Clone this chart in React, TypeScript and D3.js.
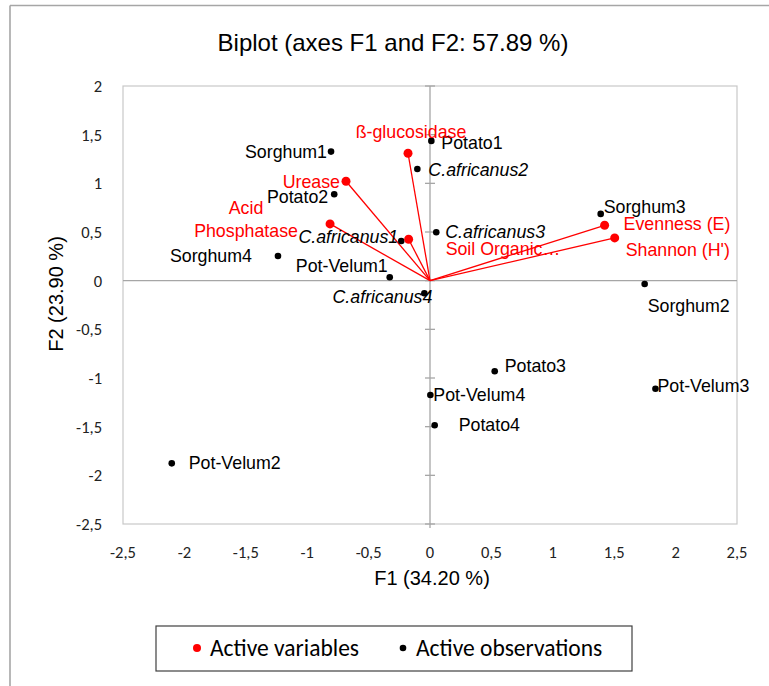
import React from "react";
import * as d3 from "d3";

// Observation scores on F1 / F2
const obsNames = [
  "Sorghum1", "Potato1", "C.africanus2", "Potato2", "C.africanus3", "C.africanus1",
  "Sorghum4", "Pot-Velum1", "C.africanus4", "Sorghum3", "Sorghum2", "Potato3",
  "Pot-Velum4", "Potato4", "Pot-Velum2", "Pot-Velum3",
];
const obsF1 = [-0.806, 0.011, -0.103, -0.78, 0.051, -0.234, -1.238, -0.328, -0.046, 1.39, 1.748, 0.527, 0.003, 0.038, -2.103, 1.836];
const obsF2 = [1.326, 1.436, 1.148, 0.888, 0.497, 0.408, 0.254, 0.035, -0.129, 0.686, -0.034, -0.931, -1.175, -1.486, -1.877, -1.111];

// Variable loadings on F1 / F2
const varNames = ["ß-glucosidase", "Urease", "Acid Phosphatase", "Soil Organic…", "Evenness (E)", "Shannon (H')"];
const varF1 = [-0.179, -0.684, -0.814, -0.174, 1.422, 1.504];
const varF2 = [1.309, 1.021, 0.583, 0.425, 0.569, 0.439];

const xTicks = [-2.5, -2, -1.5, -1, -0.5, 0, 0.5, 1, 1.5, 2, 2.5];
const yTicks = [-2.5, -2, -1.5, -1, -0.5, 0, 0.5, 1, 1.5, 2];

const titleText = "Biplot (axes F1 and F2: 57.89 %)";
const xTitle = "F1 (34.20 %)";
const yTitle = "F2 (23.90 %)";
const legendItems = ["Active variables", "Active observations"];

// Label placement relative to each point (pixels)
type Place = { dx: number; dy: number; anchor: "start" | "middle" | "end"; italic?: boolean; lines?: number[] };
const obsPlace: Record<string, Place> = {
  Sorghum1: { dx: -4, dy: 0, anchor: "end" },
  Potato1: { dx: 10, dy: 2, anchor: "start" },
  "C.africanus2": { dx: 11, dy: 1, anchor: "start", italic: true },
  Potato2: { dx: -6, dy: 3, anchor: "end" },
  "C.africanus3": { dx: 9, dy: 0, anchor: "start", italic: true },
  "C.africanus1": { dx: -3, dy: -4, anchor: "end", italic: true },
  Sorghum4: { dx: -26, dy: 0, anchor: "end" },
  "Pot-Velum1": { dx: -2, dy: -11, anchor: "end" },
  "C.africanus4": { dx: 8, dy: 4, anchor: "end", italic: true },
  Sorghum3: { dx: 3, dy: -7, anchor: "start" },
  Sorghum2: { dx: 3, dy: 22, anchor: "start" },
  Potato3: { dx: 10, dy: -5, anchor: "start" },
  "Pot-Velum4": { dx: 3, dy: 0, anchor: "start" },
  Potato4: { dx: 24, dy: 0, anchor: "start" },
  "Pot-Velum2": { dx: 17, dy: 0, anchor: "start" },
  "Pot-Velum3": { dx: 2, dy: -3, anchor: "start" },
};
const varPlace: Record<string, Place> = {
  "ß-glucosidase": { dx: 3, dy: -21, anchor: "middle" },
  Urease: { dx: -6, dy: 1, anchor: "end" },
  "Acid Phosphatase": { dx: -84, dy: 0, anchor: "middle", lines: [-16, 7] },
  "Soil Organic…": { dx: 37, dy: 10, anchor: "start" },
  "Evenness (E)": { dx: 19, dy: -1, anchor: "start" },
  "Shannon (H')": { dx: 11, dy: 12, anchor: "start" },
};

const W = 769;
const H = 686;
const plot = { left: 123, right: 737, top: 86, bottom: 524 };

const ARIAL = "'Liberation Sans', Arial, sans-serif";
const CALIBRI = "Carlito, Calibri, Lato, sans-serif";
const RED = "#ff0000";

const fmt = (v: number) => String(v).replace(".", ",");

export default function App() {
  const x = d3.scaleLinear().domain([-2.5, 2.5]).range([plot.left, plot.right]);
  const y = d3.scaleLinear().domain([-2.5, 2]).range([plot.bottom, plot.top]);
  const x0 = x(0);
  const y0 = y(0);

  return (
    <svg
      width={W}
      height={H}
      viewBox={`0 0 ${W} ${H}`}
      style={{ position: "absolute", left: 0, top: 0, background: "#fff" }}
    >
      {/* chart area frame */}
      <line x1={10} y1={5.5} x2={W} y2={5.5} stroke="#a6a6a6" strokeWidth={1.6} />
      <line x1={10} y1={5.5} x2={10} y2={H} stroke="#a6a6a6" strokeWidth={1.6} />

      {/* title */}
      <text x={393} y={42} textAnchor="middle" dominantBaseline="central" fontFamily={ARIAL} fontSize={24} fill="#000">
        {titleText}
      </text>

      {/* plot frame */}
      <rect
        x={plot.left}
        y={plot.top}
        width={plot.right - plot.left}
        height={plot.bottom - plot.top}
        fill="none"
        stroke="#c8c8c8"
        strokeWidth={1.2}
      />

      {/* zero axes */}
      <line x1={plot.left} y1={y0} x2={plot.right} y2={y0} stroke="#a6a6a6" strokeWidth={1.3} />
      <line x1={x0} y1={plot.top} x2={x0} y2={plot.bottom + 4} stroke="#a6a6a6" strokeWidth={1.3} />
      {yTicks.map((t) => (
        <line key={"yt" + t} x1={x0 - 5} x2={x0 + 5} y1={y(t)} y2={y(t)} stroke="#a6a6a6" strokeWidth={1.3} />
      ))}

      {/* tick labels */}
      {xTicks.map((t) => (
        <text key={"xl" + t} x={x(t)} y={552} textAnchor="middle" dominantBaseline="central" fontFamily={CALIBRI} fontSize={16.5} fill="#222">
          {fmt(t)}
        </text>
      ))}
      {yTicks.map((t) => (
        <text key={"yl" + t} x={102} y={y(t)} textAnchor="end" dominantBaseline="central" fontFamily={CALIBRI} fontSize={16.5} fill="#222">
          {fmt(t)}
        </text>
      ))}

      {/* axis titles */}
      <text x={432} y={578} textAnchor="middle" dominantBaseline="central" fontFamily={ARIAL} fontSize={20} fill="#000">
        {xTitle}
      </text>
      <text
        transform={`translate(56,294) rotate(-90)`}
        textAnchor="middle"
        dominantBaseline="central"
        fontFamily={ARIAL}
        fontSize={20}
        fill="#000"
      >
        {yTitle}
      </text>

      {/* variable vectors */}
      {varNames.map((n, i) => (
        <line key={"v" + n} x1={x0} y1={y0} x2={x(varF1[i])} y2={y(varF2[i])} stroke={RED} strokeWidth={1.3} />
      ))}

      {/* observations */}
      {obsNames.map((n, i) => {
        const p = obsPlace[n];
        const cx = x(obsF1[i]);
        const cy = y(obsF2[i]);
        return (
          <g key={"o" + n}>
            <circle cx={cx} cy={cy} r={3.3} fill="#000" />
            <text
              x={cx + p.dx}
              y={cy + p.dy}
              textAnchor={p.anchor}
              dominantBaseline="central"
              fontFamily={ARIAL}
              fontSize={17.8}
              fontStyle={p.italic ? "italic" : "normal"}
              fill="#000"
            >
              {n}
            </text>
          </g>
        );
      })}

      {/* variables */}
      {varNames.map((n, i) => {
        const p = varPlace[n];
        const cx = x(varF1[i]);
        const cy = y(varF2[i]);
        const parts = p.lines ? n.split(" ") : [n];
        const offs = p.lines ?? [p.dy];
        return (
          <g key={"p" + n}>
            <circle cx={cx} cy={cy} r={4.5} fill={RED} />
            {parts.map((s, k) => (
              <text
                key={k}
                x={cx + p.dx}
                y={cy + offs[k]}
                textAnchor={p.anchor}
                dominantBaseline="central"
                fontFamily={ARIAL}
                fontSize={17.8}
                fill={RED}
              >
                {s}
              </text>
            ))}
          </g>
        );
      })}

      {/* legend */}
      <rect x={156} y={626} width={476} height={45} fill="#fff" stroke="#404040" strokeWidth={1.2} />
      <circle cx={197} cy={648} r={4} fill={RED} />
      <text x={210} y={648} dominantBaseline="central" fontFamily={CALIBRI} fontSize={23.5} fill="#000">
        {legendItems[0]}
      </text>
      <circle cx={403} cy={648} r={3.3} fill="#000" />
      <text x={416} y={648} dominantBaseline="central" fontFamily={CALIBRI} fontSize={23.5} fill="#000">
        {legendItems[1]}
      </text>
    </svg>
  );
}
